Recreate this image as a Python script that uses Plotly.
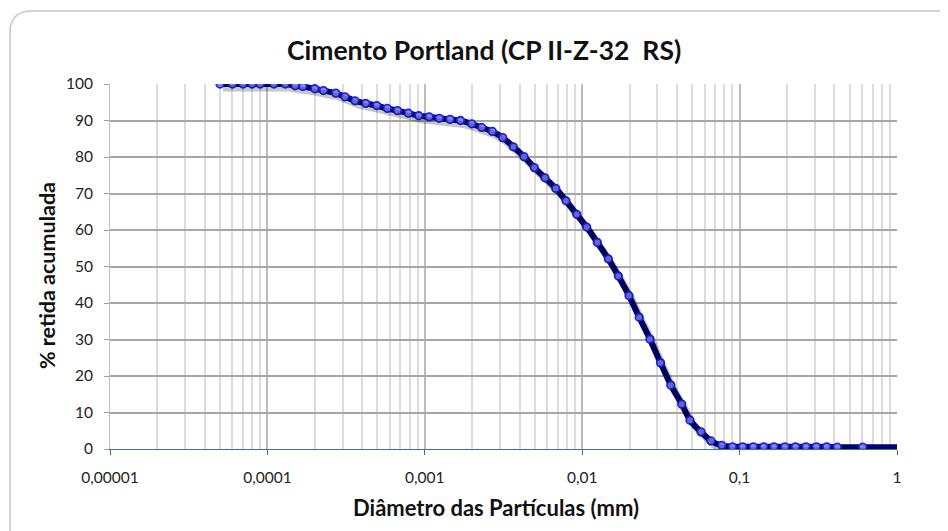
import plotly.graph_objects as go

# Particle size distribution (diameter in mm, % cumulative retained)
diametro_mm = [
    0.00005, 0.00006, 0.00007, 0.00008, 0.00009, 0.00011, 0.00013, 0.00015,
    0.000168, 0.0002, 0.000227, 0.000272, 0.000311, 0.00036, 0.000422,
    0.000495, 0.000578, 0.000671, 0.000786, 0.000915, 0.001067, 0.001236,
    0.001446, 0.001686, 0.001986, 0.002298, 0.002685, 0.003126, 0.00365,
    0.004269, 0.004963, 0.0058, 0.00679, 0.00789, 0.00923, 0.01068, 0.01247,
    0.01465, 0.01696, 0.01983, 0.02302, 0.02695, 0.03144, 0.03655, 0.04287,
    0.0484, 0.05686, 0.0658, 0.077, 0.0901, 0.1046, 0.1222, 0.1422, 0.1654,
    0.1943, 0.2265, 0.2642, 0.3072, 0.3576, 0.4175, 0.6053, 1.0,
]
retida_pct = [
    100.0, 100.0, 100.0, 100.0, 100.0, 100.0, 100.0, 99.5,
    99.3, 98.7, 98.2, 97.5, 96.5, 95.4, 94.7,
    94.1, 93.3, 92.7, 92.0, 91.3, 91.0, 90.6,
    90.3, 90.0, 89.1, 88.1, 87.0, 85.3, 82.8,
    80.1, 77.1, 74.3, 71.4, 68.0, 64.3, 60.8, 56.6,
    52.1, 47.4, 42.0, 36.1, 30.1, 23.6, 17.5, 12.3,
    7.9, 4.7, 2.2, 1.0, 0.6, 0.6, 0.6, 0.6, 0.6,
    0.6, 0.6, 0.6, 0.6, 0.6, 0.5, 0.5, 0.5,
]

x_tickvals = [0.00001, 0.0001, 0.001, 0.01, 0.1, 1]
x_ticktext = ["0,00001", "0,0001", "0,001", "0,01", "0,1", "1"]
y_tickvals = [0, 10, 20, 30, 40, 50, 60, 70, 80, 90, 100]

FONT = "Lato, 'Open Sans', sans-serif"

# page geometry (the html body adds an 8px offset)
OFF = 8
W, H = 948, 531
L, R, T, B = 110, 897, 84, 449          # plot area in page pixels
pw, ph = R - L, B - T


def px(xp):
    return (xp - L) / pw


def py(yp):
    return (B - yp) / ph


fig = go.Figure()

# drop shadow of the line: same data drawn on an overlay axis pair shifted a few px
SHX, SHY = 3, 4
fig.add_trace(go.Scatter(
    x=diametro_mm, y=retida_pct, mode="lines", xaxis="x2", yaxis="y2",
    line=dict(color="rgba(0,0,0,0.22)", width=7, shape="spline", smoothing=0.6),
    hoverinfo="skip", showlegend=False,
))
fig.add_trace(go.Scatter(
    x=diametro_mm, y=retida_pct, mode="lines",
    line=dict(color="#000078", width=6, shape="spline", smoothing=0.6),
    showlegend=False,
))
# markers (no marker on the final line point)
fig.add_trace(go.Scatter(
    x=diametro_mm[:-1], y=retida_pct[:-1], mode="markers",
    marker=dict(symbol="circle", size=7.5, color="#7d88ff",
                line=dict(color="#2222ee", width=1.8)),
    showlegend=False,
))

# rounded chart-area border
x0, x1, y0, y1, r = 10, 966, 11, 560, 22
path = (
    f"M {px(x0 + r)} {py(y0)} L {px(x1 - r)} {py(y0)} "
    f"Q {px(x1)} {py(y0)} {px(x1)} {py(y0 + r)} "
    f"L {px(x1)} {py(y1 - r)} Q {px(x1)} {py(y1)} {px(x1 - r)} {py(y1)} "
    f"L {px(x0 + r)} {py(y1)} Q {px(x0)} {py(y1)} {px(x0)} {py(y1 - r)} "
    f"L {px(x0)} {py(y0 + r)} Q {px(x0)} {py(y0)} {px(x0 + r)} {py(y0)} Z"
)
fig.add_shape(type="path", path=path, xref="paper", yref="paper",
              line=dict(color="#c8c8c8", width=1.5), layer="below")

fig.update_layout(
    width=W, height=H,
    margin=dict(l=L - OFF, r=W - R + OFF, t=T - OFF, b=H - B + OFF, pad=0),
    paper_bgcolor="white", plot_bgcolor="white",
    font=dict(family=FONT, color="#222222", size=15.5),
    showlegend=False,
    annotations=[
        dict(text="<b>Cimento Portland (CP II-Z-32  RS)</b>", x=px(484), y=py(50),
             xref="paper", yref="paper", showarrow=False,
             xanchor="center", yanchor="middle",
             font=dict(size=26.5, color="#111111", family=FONT)),
        dict(text="<b>Diâmetro das Partículas (mm)</b>", x=px(496), y=py(507),
             xref="paper", yref="paper", showarrow=False,
             xanchor="center", yanchor="middle",
             font=dict(size=22, color="#111111", family=FONT)),
        dict(text="<b>% retida acumulada</b>", x=px(47), y=py(275),
             xref="paper", yref="paper", showarrow=False, textangle=-90,
             xanchor="center", yanchor="middle",
             font=dict(size=21.5, color="#111111", family=FONT)),
    ],
    xaxis=dict(
        type="log", range=[-5, 0],
        tickvals=x_tickvals, ticktext=x_ticktext,
        ticks="outside", ticklen=5, tickcolor="#4a6a9a", tickwidth=1,
        showline=True, linecolor="#4a6a9a", linewidth=1,
        showgrid=True, gridcolor="#bcbcbc", gridwidth=1.5,
        minor=dict(dtick="D1", showgrid=True, gridcolor="#dcdcdc", gridwidth=1.5,
                   ticks=""),
        ticklabelstandoff=9,
        tickfont=dict(size=15.5, color="#222222"),
        zeroline=False,
    ),
    yaxis=dict(
        range=[0, 100], tickvals=y_tickvals,
        ticks="outside", ticklen=5, tickcolor="#a0a0a0",
        showline=True, linecolor="#c0c0c0", linewidth=1,
        showgrid=True, gridcolor="#a6a6a6", gridwidth=1.5,
        ticklabelstandoff=8,
        tickfont=dict(size=15.5, color="#222222"),
        zeroline=False,
    ),
    xaxis2=dict(type="log", overlaying="x", visible=False,
                range=[-5 - SHX / 157.4, 0 - SHX / 157.4]),
    yaxis2=dict(overlaying="y", visible=False,
                range=[0 + SHY * 100 / ph, 100 + SHY * 100 / ph]),
)

fig.write_html("out.html")
